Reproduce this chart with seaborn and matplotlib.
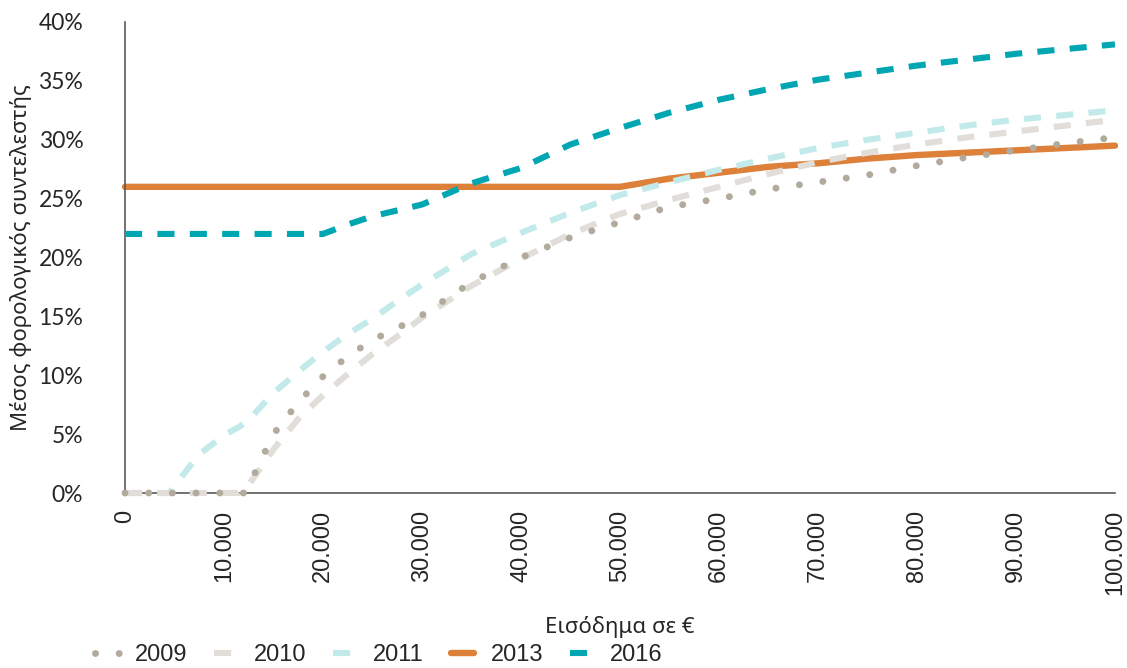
import pandas as pd
import matplotlib
matplotlib.use("Agg")
import matplotlib.pyplot as plt
import matplotlib.ticker as mticker
import seaborn as sns

# income grid (€) and average tax rate (%) per year
income = [0, 2500, 4500, 5000, 7500, 10000, 11500, 12000, 12500, 15000, 17500, 20000,
          22500, 25000, 27500, 30000, 35000, 40000, 45000, 50000, 55000, 60000, 65000,
          70000, 75000, 80000, 85000, 90000, 95000, 100000]

rate_2009 = [0, 0, 0, 0, 0, 0, 0, 0, 0.6, 5.0, 7.7, 9.9,
             11.6, 13.0, 14.0, 15.1, 17.9, 20.0, 21.7, 23.0, 24.3, 25.0, 25.8,
             26.4, 27.0, 27.8, 28.5, 29.1, 29.7, 30.2]
rate_2010 = [0, 0, 0, 0, 0, 0, 0, 0.3, 0.7, 3.7, 6.3, 8.3,
             10.1, 11.8, 13.3, 14.9, 17.6, 19.9, 22.0, 23.7, 24.9, 26.0, 27.1,
             28.1, 28.9, 29.6, 30.2, 30.7, 31.2, 31.7]
rate_2011 = [0, 0, 0, 0.6, 3.3, 4.9, 5.6, 5.9, 6.2, 8.5, 10.3, 12.0,
             13.5, 14.8, 16.3, 17.7, 20.3, 22.1, 23.8, 25.3, 26.4, 27.45, 28.4,
             29.3, 30.0, 30.6, 31.2, 31.7, 32.1, 32.5]
rate_2013 = [26.0, 26.0, 26.0, 26.0, 26.0, 26.0, 26.0, 26.0, 26.0, 26.0, 26.0, 26.0,
             26.0, 26.0, 26.0, 26.0, 26.0, 26.0, 26.0, 26.0, 26.7, 27.2, 27.7,
             28.0, 28.4, 28.7, 28.9, 29.1, 29.3, 29.5]
rate_2016 = [22.0, 22.0, 22.0, 22.0, 22.0, 22.0, 22.0, 22.0, 22.0, 22.0, 22.0, 22.0,
             22.8, 23.5, 24.0, 24.5, 26.3, 27.6, 29.6, 31.0, 32.3, 33.4, 34.3,
             35.1, 35.7, 36.3, 36.8, 37.3, 37.7, 38.1]

years = ["2009", "2010", "2011", "2013", "2016"]
rates = [rate_2009, rate_2010, rate_2011, rate_2013, rate_2016]

colors = {"2009": "#b3aa9e", "2010": "#e1ddd9", "2011": "#c3eaea",
          "2013": "#dc803a", "2016": "#00a6b1"}
styles = {
    "2009": dict(lw=5.0, ls=(0, (0.01, 3.4)), dash_capstyle="round", zorder=6),
    "2010": dict(lw=4.4, ls=(0, (2.8, 2.5)), zorder=5),
    "2011": dict(lw=4.4, ls=(0, (2.8, 2.5)), zorder=4),
    "2013": dict(lw=4.6, ls="-", zorder=2),
    "2016": dict(lw=4.4, ls=(0, (2.8, 2.5)), zorder=3),
}

df = pd.DataFrame({"income": income})
for y, r in zip(years, rates):
    df[y] = r

sns.set_style("white")
plt.rcParams["font.family"] = ["Lato", "Noto Sans", "DejaVu Sans"]

fig = plt.figure(figsize=(11.27, 6.68), dpi=100)
ax = fig.add_axes([125 / 1127, 1 - 493 / 668, 990 / 1127, 471 / 668])

handles = []
for y in years:
    st = styles[y]
    sns.lineplot(data=df, x="income", y=y, ax=ax, color=colors[y], linewidth=st["lw"],
                 linestyle=st["ls"], label=y, zorder=st["zorder"], clip_on=False,
                 legend=False)
    line = ax.get_lines()[-1]
    if "dash_capstyle" in st:
        line.set_dash_capstyle(st["dash_capstyle"])
    handles.append(line)

ax.set_xlim(0, 100000)
ax.set_ylim(0, 40)
ax.set_xticks(range(0, 100001, 10000))
ax.set_yticks(range(0, 41, 5))
ax.xaxis.set_major_formatter(mticker.FuncFormatter(lambda v, p: f"{v:,.0f}".replace(",", ".")))
ax.yaxis.set_major_formatter(mticker.PercentFormatter(100, decimals=0))

for lab in ax.get_xticklabels():
    lab.set_rotation(90)
    lab.set_fontfamily("Liberation Sans")
    lab.set_fontsize(17)
for lab in ax.get_yticklabels():
    lab.set_fontsize(16.5)
ax.tick_params(axis="x", length=0, pad=12)
ax.tick_params(axis="y", length=0, pad=30)

sns.despine(ax=ax)
for side in ["left", "bottom"]:
    ax.spines[side].set_color("#595959")
    ax.spines[side].set_linewidth(1.2)
ax.grid(False)

ax.set_xlabel("Εισόδημα σε €", fontsize=16, family="Noto Sans")
ax.xaxis.set_label_coords(0.5, -0.262)
ax.set_ylabel("Μέσος φορολογικός συντελεστής", fontsize=16, family="Noto Sans")
ax.yaxis.set_label_coords(-0.094, 0.5)

fig.legend(handles=handles, labels=years, loc="center left",
           bbox_to_anchor=(95 / 1127, 1 - 655 / 668), ncol=5, frameon=False,
           prop={"family": "Liberation Sans", "size": 17}, handlelength=1.0,
           handletextpad=0.7, columnspacing=1.12, borderpad=0, borderaxespad=0)

fig.savefig("out.png", dpi=100)
